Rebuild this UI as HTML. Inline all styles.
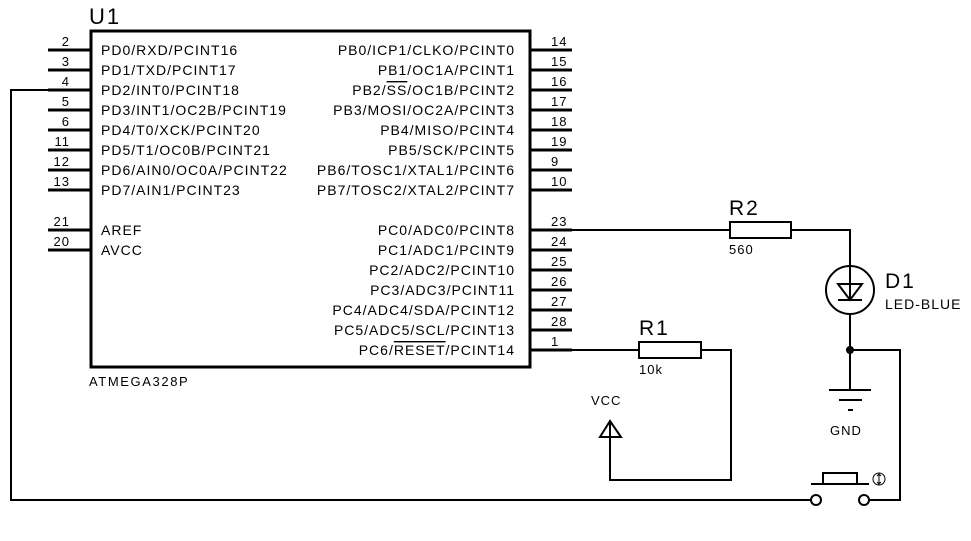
<!DOCTYPE html>
<html><head><style>
body{margin:0;background:#fff}
svg{display:block}
text{font-family:"Liberation Sans",sans-serif;fill:#000;letter-spacing:1px}
</style></head><body>
<svg width="971" height="541" viewBox="0 0 971 541" xmlns="http://www.w3.org/2000/svg">
<g stroke="#000" fill="none">
<rect x="91" y="31" width="439" height="336" stroke-width="3"/>
<g stroke-width="3">
<path d="M48 50H90M48 70H90M48 110H90M48 130H90M48 150H90M48 170H90M48 190H90M48 230H90M48 250H90"/>
<path d="M530 50H572M530 70H572M530 90H572M530 110H572M530 130H572M530 150H572M530 170H572M530 190H572M530 250H572M530 270H572M530 290H572M530 310H572M530 330H572"/>
<path d="M530 230H572M530 350H572M90 90H48"/>
</g>
<g stroke-width="2">
<path d="M48 90H11V500H811"/>
<path d="M869 500H900V350H850"/>
<path d="M572 230H730M791 230H850V266M850 314V390"/>
<path d="M572 350H639M701 350H731V480H610V422"/>
<rect x="730" y="222" width="61" height="16"/>
<rect x="639" y="342" width="62" height="16"/>
<circle cx="850" cy="290" r="24"/>
<path d="M838 284H862L850 300Z M838 300H862M850 266V300"/>
<path d="M829 390H871M839 400H862"/>
<path d="M848 410H853"/>
<path d="M610 421L600 437H621Z M610 437V480"/>
<path d="M811 484H869M823 484V473H857V484"/>
<circle cx="816" cy="500" r="5"/>
<circle cx="864" cy="500" r="5"/>
</g>
<circle cx="850" cy="350" r="3.5" fill="#000"/>
<circle cx="879" cy="479" r="6" stroke-width="1"/>
<path d="M879 475V483M877 476L879 474L881 476M877 482L879 484L881 482" stroke-width="1"/>
</g>
<text x="89" y="24" font-size="22" style="letter-spacing:2px">U1</text>
<g font-size="14">
<text x="101" y="55">PD0/RXD/PCINT16</text>
<text x="101" y="75">PD1/TXD/PCINT17</text>
<text x="101" y="95">PD2/INT0/PCINT18</text>
<text x="101" y="115">PD3/INT1/OC2B/PCINT19</text>
<text x="101" y="135">PD4/T0/XCK/PCINT20</text>
<text x="101" y="155">PD5/T1/OC0B/PCINT21</text>
<text x="101" y="175">PD6/AIN0/OC0A/PCINT22</text>
<text x="101" y="195">PD7/AIN1/PCINT23</text>
<text x="101" y="235">AREF</text>
<text x="101" y="255">AVCC</text>
</g>
<g font-size="14" text-anchor="end">
<text x="515" y="55">PB0/ICP1/CLKO/PCINT0</text>
<text x="515" y="75">PB1/OC1A/PCINT1</text>
<text x="515" y="95">PB2/<tspan text-decoration="overline">SS</tspan>/OC1B/PCINT2</text>
<text x="515" y="115">PB3/MOSI/OC2A/PCINT3</text>
<text x="515" y="135">PB4/MISO/PCINT4</text>
<text x="515" y="155">PB5/SCK/PCINT5</text>
<text x="515" y="175">PB6/TOSC1/XTAL1/PCINT6</text>
<text x="515" y="195">PB7/TOSC2/XTAL2/PCINT7</text>
<text x="515" y="235">PC0/ADC0/PCINT8</text>
<text x="515" y="255">PC1/ADC1/PCINT9</text>
<text x="515" y="275">PC2/ADC2/PCINT10</text>
<text x="515" y="295">PC3/ADC3/PCINT11</text>
<text x="515" y="315">PC4/ADC4/SDA/PCINT12</text>
<text x="515" y="335">PC5/ADC5/SCL/PCINT13</text>
<text x="515" y="355">PC6/<tspan text-decoration="overline">RESET</tspan>/PCINT14</text>
</g>
<g font-size="13" text-anchor="end">
<text x="70" y="46">2</text><text x="70" y="66">3</text><text x="70" y="86">4</text><text x="70" y="106">5</text>
<text x="70" y="126">6</text><text x="70" y="146">11</text><text x="70" y="166">12</text><text x="70" y="186">13</text>
<text x="70" y="226">21</text><text x="70" y="246">20</text>
</g>
<g font-size="13">
<text x="551" y="46">14</text><text x="551" y="66">15</text><text x="551" y="86">16</text><text x="551" y="106">17</text>
<text x="551" y="126">18</text><text x="551" y="146">19</text><text x="551" y="166">9</text><text x="551" y="186">10</text>
<text x="551" y="226">23</text><text x="551" y="246">24</text><text x="551" y="266">25</text><text x="551" y="286">26</text>
<text x="551" y="306">27</text><text x="551" y="326">28</text><text x="551" y="346">1</text>
</g>
<text x="729" y="215" font-size="21" style="letter-spacing:2px">R2</text>
<text x="729" y="254" font-size="13">560</text>
<text x="639" y="335" font-size="21" style="letter-spacing:2px">R1</text>
<text x="639" y="374" font-size="13">10k</text>
<text x="885" y="288" font-size="21" style="letter-spacing:2px">D1</text>
<text x="885" y="309" font-size="14">LED-BLUE</text>
<text x="830" y="435" font-size="13">GND</text>
<text x="591" y="405" font-size="13">VCC</text>
<text x="89" y="386" font-size="13" style="letter-spacing:1.6px">ATMEGA328P</text>
</svg>
</body></html>
